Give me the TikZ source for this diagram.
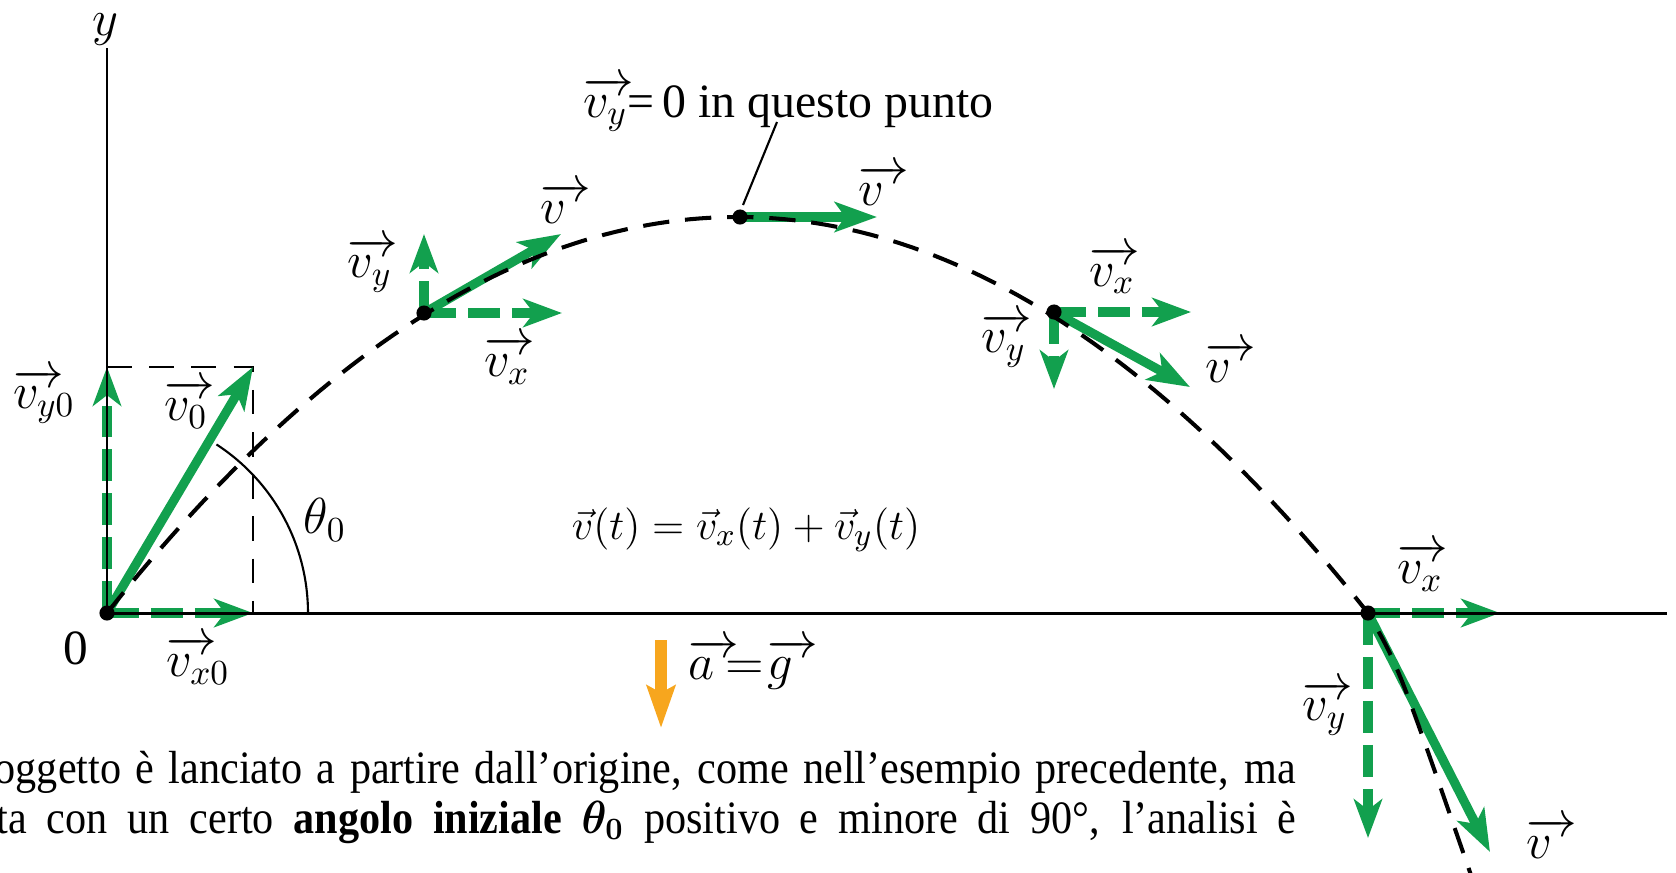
\documentclass[tikz,border=0pt]{standalone}
\usepackage{amsmath}
\usepackage{bm}
\usepackage{fontspec}
\setmainfont{Liberation Serif}
\usetikzlibrary{arrows.meta}
\definecolor{vgreen}{RGB}{18,160,78}
\definecolor{aorange}{RGB}{247,166,30}
\newcommand{\vvec}{\rlap{$\overrightarrow{\phantom{v}\mkern5mu}$}v}
\newcommand{\avec}{\rlap{$\overrightarrow{\phantom{a}\mkern3mu}$}a}
\newcommand{\gvec}{\rlap{$\overrightarrow{\phantom{g}\mkern5mu}$}g}
\begin{document}
\begin{tikzpicture}[x=0.01cm,y=-0.01cm,
  vecarrow/.style={vgreen, line width=2.6pt, -{Stealth[length=12pt,width=8.5pt,inset=3pt]}},
  comparrow/.style={vgreen, line width=3pt, dash pattern=on 9pt off 3.5pt, -{Stealth[length=11pt,width=8pt,inset=3pt]}},
  trajline/.style={black, line width=1.15pt, dash pattern=on 7.5pt off 4.5pt},
  guideline/.style={black, line width=0.7pt, dash pattern=on 7pt off 5pt},
  axisline/.style={black, line width=0.85pt},
  lbl/.style={font=\fontsize{14pt}{16pt}\selectfont, inner sep=0pt},
  bodytext/.style={font=\fontsize{12pt}{14pt}\selectfont, inner sep=0pt, anchor=base west},
  dotmark/.style={circle, fill=black, inner sep=0pt, minimum size=4.3pt},
]
\useasboundingbox (0,0) rectangle (1676,872);
\clip (0,0) rectangle (1676,872);

% key points
\coordinate (O) at (107,613);
\coordinate (P1) at (424,313);
\coordinate (P2) at (740,217);
\coordinate (P3) at (1054,312);
\coordinate (P4) at (1368,613);
\coordinate (Ytop) at (107,48);
\coordinate (Xend) at (1667,613);
\coordinate (C0) at (253,367);
\coordinate (Vy0) at (107,367);
\coordinate (Vx0) at (253,613);

% guide dashed rectangle
\draw[guideline] (Vy0) -- (C0) -- (Vx0);

% angle arc
\draw[line width=0.6pt] plot[domain=0:57,samples=40] ({107+201*cos(\x)},{613-201*sin(\x)});

% green vectors at origin
\draw[comparrow] (O) -- (Vy0);
\draw[comparrow] (O) -- (Vx0);
\draw[vecarrow] (O) -- (C0);

% P1
\coordinate (P1v) at (561,234);
\coordinate (P1y) at (424,234);
\coordinate (P1x) at (562,313);
\draw[comparrow] (P1) -- (P1y);
\draw[comparrow] (P1) -- (P1x);
\draw[vecarrow] (P1) -- (P1v);

% P2
\coordinate (P2v) at (877,217);
\draw[vecarrow] (P2) -- (P2v);

% P3
\coordinate (P3x) at (1191,312);
\coordinate (P3y) at (1054,389);
\coordinate (P3v) at (1190,387);
\draw[comparrow] (P3) -- (P3x);
\draw[comparrow] (P3) -- (P3y);
\draw[vecarrow] (P3) -- (P3v);

% P4
\coordinate (P4x) at (1500,613);
\coordinate (P4y) at (1368,838);
\coordinate (P4v) at (1490,852);
\draw[comparrow] (P4) -- (P4x);
\draw[comparrow] (P4) -- (P4y);
\draw[vecarrow] (P4) -- (P4v);

% trajectory
\draw[trajline] plot[domain=107:1368,samples=120] (\x,{613-396*(1-((\x-737.5)/630.5)^2)})
   .. controls (1398,665) .. (1472,878);

% axes
\draw[axisline] (O) -- (Ytop);
\draw[axisline] (O) -- (Xend);

% gravity arrow
\coordinate (G1) at (661,640);
\coordinate (G2) at (661,728);
\draw[aorange, line width=3.4pt, -{Stealth[length=12pt,width=8pt,inset=2pt]}] (G1) -- (G2);

% annotation leader
\coordinate (LeadA) at (777,122);
\coordinate (LeadB) at (743,205);
\draw[line width=0.6pt] (LeadA) -- (LeadB);

% dots
\node[dotmark] (dO) at (O) {};
\node[dotmark] (d1) at (P1) {};
\node[dotmark] (d2) at (P2) {};
\node[dotmark] (d3) at (P3) {};
\node[dotmark] (d4) at (P4) {};

% labels
\node[lbl] (ly) at (105,30) {$y$};
\node[lbl] (l0) at (76,648) {0};
\node[lbl] (lvx0) at (198,660) {$\vvec_{x0}$};
\node[lbl] (lvy0) at (44,396) {$\vvec_{y0}$};
\node[lbl] (lv0) at (186,404) {$\vvec_{0}$};
\node[lbl] (lth) at (325,520) {$\theta_0$};

\node[lbl] (l1y) at (370,265) {$\vvec_{y}$};
\node[lbl] (l1v) at (553,203) {$\vvec$};
\node[lbl] (l1x) at (507,360) {$\vvec_{x}$};

\node[lbl] (l2v) at (871,185) {$\vvec$};
\node[lbl, font=\fontsize{13.6pt}{16pt}\selectfont, anchor=base east] (note) at (994,117) {$\vvec_{y}${=}\,0 in questo punto};

\node[lbl] (l3x) at (1112,270) {$\vvec_{x}$};
\node[lbl] (l3y) at (1004,340) {$\vvec_{y}$};
\node[lbl] (l3v) at (1218,362) {$\vvec$};

\node[lbl] (l4x) at (1420,567) {$\vvec_{x}$};
\node[lbl] (l4y) at (1325,708) {$\vvec_{y}$};
\node[lbl] (l4v) at (1539,838) {$\vvec$};

\node[font=\fontsize{12.3pt}{14pt}\selectfont, inner sep=0pt] (eq) at (746,530) {$\vec{v}(t)=\vec{v}_{x}(t)+\vec{v}_{y}(t)$};
\node[lbl, anchor=west] (lag) at (688,664) {$\avec\mkern4mu{=}\mkern1mu\gvec$};

% bottom text
\node[bodytext] (t1) at (-6,783) {\scalebox{1}[1.1]{\makebox[370pt][s]{oggetto è lanciato a partire dall’origine, come nell’esempio precedente, ma}}};
\node[bodytext] (t2) at (-4,833) {\scalebox{1}[1.1]{\makebox[369.6pt][s]{ta con un certo \textbf{angolo iniziale} $\bm{\theta_0}$ positivo e minore di 90°, l’analisi è}}};
\end{tikzpicture}
\end{document}
